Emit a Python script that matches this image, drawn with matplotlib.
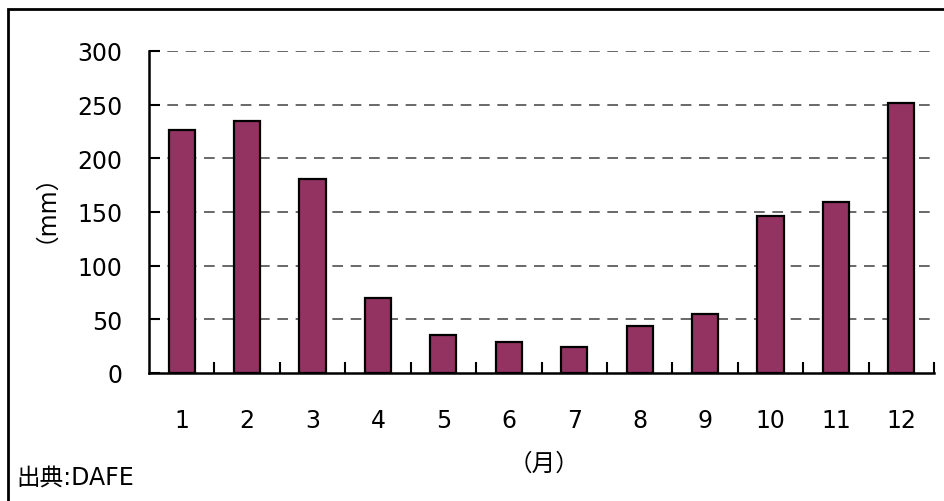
import matplotlib
matplotlib.use('Agg')
import matplotlib.pyplot as plt
from matplotlib.patches import Rectangle
import numpy as np

plt.rcParams['font.family'] = ['DejaVu Sans', 'Noto Sans CJK JP']

# 月別降水量 (mm)
months = ['1', '2', '3', '4', '5', '6', '7', '8', '9', '10', '11', '12']
rain_mm = [226, 235, 181, 70, 35, 29, 24, 44, 55, 146, 159, 252]
y_ticks = [0, 50, 100, 150, 200, 250, 300]

bar_color = '#933361'

fig = plt.figure(figsize=(9.45, 5.02), dpi=100)
W, H = 945, 502
ax = fig.add_axes([149 / W, 1 - 374 / H, (934 - 149) / W, (374 - 52) / H])

x = np.arange(len(months))
ax.bar(x, rain_mm, width=0.4, color=bar_color, edgecolor='black', linewidth=1.6, zorder=3)

ax.set_xlim(-0.5, len(months) - 0.5)
ax.set_ylim(0, 300)
ax.set_yticks(y_ticks)
ax.set_yticklabels([str(v) for v in y_ticks], fontsize=17)
ax.set_xticks(x)
ax.set_xticklabels(months, fontsize=17)
ax.set_xticks(np.arange(0.5, len(months)), minor=True)

ax.tick_params(axis='x', which='major', length=0, pad=25)
ax.tick_params(axis='x', which='minor', direction='in', length=8, width=1.5)
ax.tick_params(axis='y', direction='in', length=8, width=1.5, pad=19)

# 破線のグリッド
for v in y_ticks[1:]:
    ax.axhline(v, color='#404040', linewidth=1.1, linestyle=(0, (7, 5)), zorder=1)

for s in ['top', 'right']:
    ax.spines[s].set_visible(False)
for s in ['left', 'bottom']:
    ax.spines[s].set_linewidth(1.8)

fig.text(33 / W, 1 - 196 / H, '（mm）', rotation=90, ha='center', va='center', fontsize=17)
fig.text(544 / W, 1 - 464 / H, '（月）', ha='center', va='center', fontsize=17)
fig.text(16 / W, 1 - 478 / H, '出典:DAFE', ha='left', va='center', fontsize=17)

# 外枠
fig.patches.append(Rectangle((8 / W, -0.05), 1.0, 1 - 10 / H + 0.05, transform=fig.transFigure,
                             fill=False, edgecolor='black', linewidth=2))

fig.savefig('out.png', dpi=100)
